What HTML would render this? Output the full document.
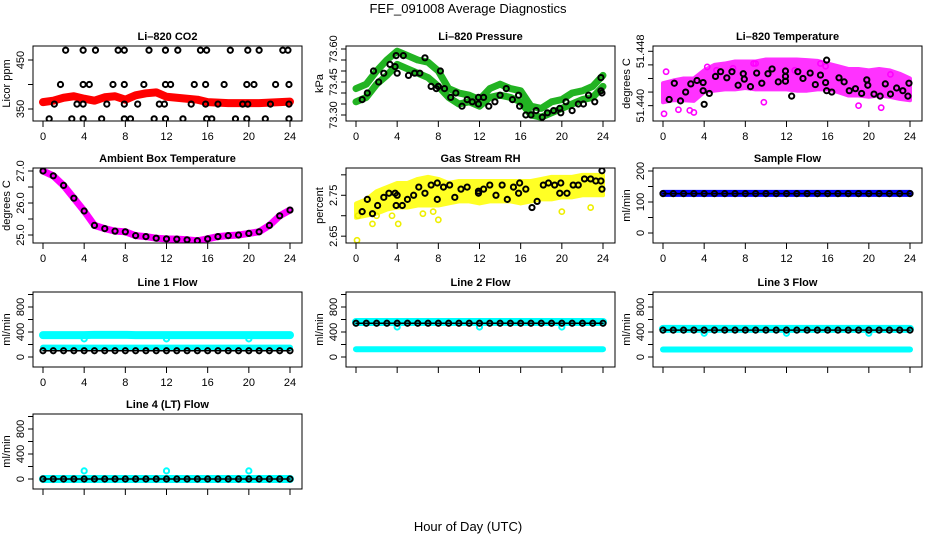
<!DOCTYPE html>
<html><head><meta charset="utf-8"><style>
html,body{margin:0;padding:0;background:#fff;}
svg{display:block;font-family:"Liberation Sans",Arial,sans-serif;}
</style></head><body>
<svg id="c" width="936" height="540" viewBox="0 0 936 540" xmlns="http://www.w3.org/2000/svg">
<rect width="936" height="540" fill="#fff"/>
<text x="468" y="13" text-anchor="middle" font-size="13">FEF_091008  Average Diagnostics</text>
<text x="468" y="531" text-anchor="middle" font-size="13">Hour of Day (UTC)</text>
</svg>
<script>
const hours=[0,1,2,3,4,5,6,7,8,9,10,11,12,13,14,15,16,17,18,19,20,21,22,23,24];
const xTicks=[0,4,8,12,16,20,24];
// CO2
const co2Red=[364,367,373,376,371,367,374,376,369,378,382,384,375,373,371,369,364,363,362,362,362,362,363,364,365];
const co2BlackHour=[2.2,3.9,5.1,7.3,7.9,10.3,11.9,13.1,15.3,15.9,18.2,19.9,21,23.3,23.8,1.7,3.9,4.5,6.8,7.9,9.8,11.9,12.4,14.7,15.8,17.6,19.8,20.5,22.6,23.9,1.1,3.3,3.9,6.2,7.9,9.2,11.3,11.8,14.4,15.8,17,19.4,19.9,22.1,23.9,0.6,2.8,3.9,5.7,7.9,8.5,10.8,11.9,13.6,15.9,16.4,18.7,19.8,21.6,23.9];
const co2BlackVal=[470,470,470,470,470,470,470,470,470,470,470,470,470,470,470,400,400,400,400,400,400,400,400,400,400,400,400,400,400,400,360,360,360,360,360,360,360,360,360,360,360,360,360,360,360,330,330,330,330,330,330,330,330,330,330,330,330,330,330,330];
// Pressure
const presUpper=[73.42,73.44,73.50,73.55,73.59,73.57,73.55,73.54,73.50,73.42,73.40,73.39,73.37,73.42,73.44,73.42,73.41,73.34,73.33,73.36,73.37,73.40,73.41,73.43,73.48];
const presLower=[73.36,73.38,73.44,73.48,73.53,73.51,73.49,73.47,73.43,73.38,73.35,73.36,73.34,73.38,73.39,73.38,73.36,73.30,73.29,73.31,73.33,73.35,73.37,73.38,73.43];
const presBlackHour=[0.6,1.1,1.7,2.2,2.7,3.3,3.8,3.9,4.0,4.6,5.1,5.7,6.2,6.7,7.3,7.8,8.0,8.2,8.6,9.2,9.7,10.3,10.8,11.3,11.9,11.9,12.4,12.9,13.5,14.0,14.6,15.2,15.8,15.9,16.5,17.0,17.5,18.1,18.6,19.2,19.8,19.9,20.4,21.0,21.6,22.1,22.6,23.2,23.8,23.9,23.8];
const presBlackVal=[73.37,73.40,73.50,73.45,73.49,73.53,73.52,73.57,73.49,73.57,73.48,73.49,73.49,73.56,73.43,73.42,73.43,73.50,73.42,73.38,73.40,73.34,73.37,73.36,73.38,73.35,73.38,73.34,73.36,73.39,73.42,73.37,73.39,73.34,73.30,73.30,73.32,73.29,73.31,73.32,73.33,73.31,73.36,73.32,73.35,73.35,73.39,73.36,73.47,73.40,73.41];
// Li-820 temperature
const ltUpper=[51.4433,51.4437,51.4440,51.4440,51.4452,51.4460,51.4462,51.4465,51.4465,51.4465,51.4468,51.4468,51.4468,51.4468,51.4467,51.4466,51.4462,51.4458,51.4454,51.4454,51.4452,51.4454,51.4452,51.4447,51.4440];
const ltLower=[51.4405,51.4408,51.4408,51.4407,51.4420,51.4422,51.4424,51.4424,51.4426,51.4424,51.4424,51.4424,51.4424,51.4422,51.4422,51.4424,51.4424,51.4420,51.4415,51.4415,51.4413,51.4415,51.4413,51.4410,51.4408];
const ltOutHour=[0.1,0.3,3.0,4.3,5.2,6.8,8.8,9.0,9.8,12.8,15.3,15.8,22.1,21.2,19.0,2.6,1.5];
const ltOutVal=[51.4388,51.4450,51.4390,51.4457,51.4452,51.4455,51.4462,51.4462,51.4405,51.4452,51.4462,51.4458,51.4446,51.4397,51.4400,51.4393,51.4394];
const ltBlackHour=[0.6,1.1,1.7,2.2,2.7,3.3,3.9,3.9,4.0,4.5,5.1,5.6,6.2,6.7,7.3,7.8,7.9,8.5,9.1,9.6,10.2,10.6,11.2,11.9,11.9,11.9,12.5,13.1,13.6,14.3,14.8,15.3,15.8,15.9,15.9,16.4,17.1,17.6,18.1,18.7,19.3,19.8,19.9,20.5,21.1,21.6,22.1,22.7,23.3,23.8,23.9];
const ltBlackVal=[51.4409,51.4433,51.4407,51.4420,51.4432,51.4437,51.4422,51.4434,51.4402,51.4418,51.4443,51.4450,51.4441,51.4450,51.4430,51.4447,51.4439,51.4428,51.4448,51.4433,51.4447,51.4454,51.4435,51.4451,51.4443,51.4436,51.4414,51.4450,51.4440,51.4448,51.4431,51.4445,51.4434,51.4422,51.4467,51.4420,51.4441,51.4435,51.4422,51.4425,51.4418,51.4438,51.4430,51.4417,51.4414,51.4432,51.4417,51.4426,51.4422,51.4414,51.4433];
// Ambient box temperature
const ambTemp=[27.0,26.85,26.55,26.15,25.75,25.3,25.2,25.12,25.1,24.98,24.95,24.9,24.88,24.87,24.85,24.82,24.88,24.95,24.98,25.0,25.05,25.1,25.3,25.6,25.78];
// Gas stream RH
const rhUpper=[2.73,2.74,2.76,2.77,2.78,2.78,2.79,2.795,2.79,2.78,2.785,2.785,2.785,2.785,2.785,2.785,2.785,2.785,2.79,2.795,2.795,2.795,2.80,2.80,2.80];
const rhLower=[2.695,2.70,2.705,2.715,2.72,2.72,2.725,2.725,2.725,2.73,2.735,2.735,2.73,2.735,2.735,2.735,2.73,2.735,2.74,2.74,2.745,2.745,2.75,2.75,2.75];
const rhOutHour=[0.1,1.6,3.5,4.1,6.5,7.5,8.0,20,22.8,0.2,2.0];
const rhOutVal=[2.64,2.68,2.70,2.68,2.705,2.71,2.69,2.71,2.72,2.70,2.70];
const rhBlackHour=[0.6,1.1,1.6,2.1,2.7,3.2,3.8,3.9,4.0,4.5,5.0,5.6,6.1,6.7,7.3,7.9,7.9,8.5,9.1,9.6,10.2,10.8,11.9,11.9,12.4,13.0,13.6,14.2,14.7,15.3,15.8,15.9,16.5,17.1,17.6,18.2,18.7,19.3,19.8,19.9,20.5,21.1,21.6,22.2,22.8,23.3,23.8,23.9,23.9];
const rhBlackVal=[2.71,2.74,2.705,2.725,2.745,2.755,2.755,2.725,2.75,2.725,2.74,2.75,2.77,2.755,2.775,2.74,2.78,2.77,2.775,2.745,2.765,2.77,2.755,2.76,2.765,2.775,2.75,2.775,2.74,2.77,2.755,2.78,2.765,2.72,2.735,2.775,2.78,2.775,2.755,2.78,2.755,2.775,2.775,2.79,2.79,2.785,2.785,2.765,2.81];
// Flows
const sampleBlue=[128,128,128,128,128,128,128,128,128,128,128,128,128,128,128,128,128,128,128,128,128,128,128,128,128];
const sampleBlack=[127,127,127,127,127,127,127,127,127,127,127,127,127,127,127,127,127,127,127,127,127,127,127,127,127];
const l1High=[350,350,350,350,350,355,355,355,355,350,350,350,350,350,350,350,350,350,350,350,350,350,350,350,350];
const l1Low=[150,150,150,150,150,150,150,150,150,150,150,150,150,150,150,150,150,150,150,150,150,150,150,150,150];
const l1Black=[100,100,100,100,100,100,100,100,100,100,100,100,100,100,100,100,100,100,100,100,100,100,100,100,100];
const l2High=[560,560,560,560,560,560,560,560,560,560,560,560,560,560,560,560,560,560,560,560,560,560,560,560,560];
const l2Low=[125,125,125,125,125,125,125,125,125,125,125,125,125,125,125,125,125,125,125,125,125,125,125,125,125];
const l2Black=[540,540,540,540,540,540,540,540,540,540,540,540,540,540,540,540,540,540,540,540,540,540,540,540,540];
const l3High=[450,450,450,450,450,450,450,450,450,450,450,450,450,450,450,450,450,450,450,450,450,450,450,450,450];
const l3Low=[120,120,120,120,120,120,120,120,120,120,120,120,120,120,120,120,120,120,120,120,120,120,120,120,120];
const l3Black=[430,430,430,430,430,430,430,430,430,430,430,430,430,430,430,430,430,430,430,430,430,430,430,430,430];
const l4Cyan=[0,0,0,0,0,0,0,0,0,0,0,0,0,0,0,0,0,0,0,0,0,0,0,0,0];
const l4Black=[0,0,0,0,0,0,0,0,0,0,0,0,0,0,0,0,0,0,0,0,0,0,0,0,0];
const dipHours=[4,12,20];
const l1Dip=[290,290,290];
const l2Dip=[480,480,480];
const l3Dip=[380,380,380];
const l4Dip=[130,130,130];

const svg=document.getElementById('c');
const NS='http://www.w3.org/2000/svg';
function mk(tag,attrs,parent){const e=document.createElementNS(NS,tag);for(const k in attrs)e.setAttribute(k,attrs[k]);(parent||svg).appendChild(e);return e;}

const colLeft=[33,346,653], rowTop=[46,168,292,414], BW=269, BH=75;

function panel(o){
  const L=colLeft[o.col], T=rowTop[o.row];
  const g=mk('g',{});
  
  
  const xs=h=>L+10+h*(247/24);
  const ys=v=>T+BH-(v-o.ymin)/(o.ymax-o.ymin)*BH;
  const clip='clip'+o.name;
  const cp=mk('clipPath',{id:clip},g);mk('rect',{x:L,y:T,width:BW,height:BH},cp);
  const plot=mk('g',{'clip-path':'url(#'+clip+')'},g);
  o.draw(plot,xs,ys);
  const box=mk('rect',{x:L,y:T,width:BW,height:BH,fill:'none',stroke:'#000','stroke-width':1},g);
  
  
  const t=mk('text',{x:L+BW/2,y:T-6,'text-anchor':'middle','font-size':11,'font-weight':'bold'},g);
  t.textContent=o.title;
  
  
  mk('line',{x1:xs(0),x2:xs(24),y1:T+BH,y2:T+BH,stroke:'#000'},g);
  xTicks.forEach(h=>{
    mk('line',{x1:xs(h),x2:xs(h),y1:T+BH,y2:T+BH+6,stroke:'#000'},g);
    if(o.xlabels){const tx=mk('text',{x:xs(h),y:T+BH+19,'text-anchor':'middle','font-size':11},g);tx.textContent=h;
      
      }
  });
  o.yticks.forEach(v=>{
    mk('line',{x1:L,x2:L-5,y1:ys(v),y2:ys(v),stroke:'#000'},g);
  });
  o.ylabels.forEach((s,i)=>{
    const v=o.ylabelVals[i];
    const tx=mk('text',{x:0,y:0,'text-anchor':'middle','font-size':11,transform:`translate(${L-9},${ys(v)}) rotate(-90)`},g);
    tx.textContent=s;
    
    
  });
  const yt=mk('text',{x:0,y:0,'text-anchor':'middle','font-size':11,transform:`translate(${L-23},${T+BH/2}) rotate(-90)`},g);
  yt.textContent=o.ylab;
  
  
}
function poly(p,xs,ys,hs,vs,color,w,name){
  const e=mk('polyline',{points:hs.map((h,i)=>xs(h)+','+ys(vs[i])).join(' '),fill:'none',stroke:color,'stroke-width':w,'stroke-linejoin':'round','stroke-linecap':'round'},p);
  
  
}
function band(p,xs,ys,hs,lo,hi,color,name,op){
  const pts=hs.map((h,i)=>xs(h)+','+ys(hi[i])).concat(hs.slice().reverse().map((h,j)=>xs(h)+','+ys(lo[hs.length-1-j])));
  const e=mk('polygon',{points:pts.join(' '),fill:color,stroke:color,'stroke-width':4,'stroke-linejoin':'round',opacity:op||1},p);
  
  
}
function rings(p,xs,ys,hs,vs,color,name,sw){
  hs.forEach((h,i)=>{
    const c=mk('circle',{cx:xs(h),cy:ys(vs[i]),r:2.6,fill:'none',stroke:color,'stroke-width':sw||1.6},p);
    
    
  });
}

panel({name:'co2-panel',col:0,row:0,title:'Li\u2013820 CO2',ylab:'Licor ppm',ymin:325.5,ymax:478.6,yticks:[350,400,450],ylabels:['350','450'],ylabelVals:[350,450],xlabels:true,
  draw:(p,xs,ys)=>{poly(p,xs,ys,hours,co2Red,'#f00',8,'co2-red-series');rings(p,xs,ys,hours,co2Red,'#f00','co2-red-point');rings(p,xs,ys,co2BlackHour,co2BlackVal,'#000','co2-black-point',2);}});
panel({name:'pressure-panel',col:1,row:0,title:'Li\u2013820 Pressure',ylab:'kPa',ymin:73.2727,ymax:73.6136,yticks:[73.30,73.35,73.40,73.45,73.50,73.55,73.60],ylabels:['73.30','73.45','73.60'],ylabelVals:[73.30,73.45,73.60],xlabels:true,
  draw:(p,xs,ys)=>{poly(p,xs,ys,hours,presUpper,'#22b322',7,'pressure-upper-series');poly(p,xs,ys,hours,presLower,'#22b322',7,'pressure-lower-series');rings(p,xs,ys,presBlackHour,presBlackVal,'#000','pressure-black-point',2);}});
panel({name:'li820-temp-panel',col:2,row:0,title:'Li\u2013820 Temperature',ylab:'degrees C',ymin:51.43774,ymax:51.44878,yticks:[51.440,51.442,51.444,51.446,51.448],ylabels:['51.440','51.448'],ylabelVals:[51.440,51.448],xlabels:true,
  draw:(p,xs,ys)=>{band(p,xs,ys,hours,ltLower,ltUpper,'#f0f','li820-temp-band',0.8);rings(p,xs,ys,ltOutHour,ltOutVal,'#f0f','li820-temp-outlier');rings(p,xs,ys,ltBlackHour,ltBlackVal,'#000','li820-temp-black-point',2);}});
panel({name:'ambient-temp-panel',col:0,row:1,title:'Ambient Box Temperature',ylab:'degrees C',ymin:24.75,ymax:27.094,yticks:[25.0,25.5,26.0,26.5,27.0],ylabels:['25.0','26.0','27.0'],ylabelVals:[25.0,26.0,27.0],xlabels:true,
  draw:(p,xs,ys)=>{poly(p,xs,ys,hours,ambTemp,'#f0f',7,'ambient-temp-series');rings(p,xs,ys,hours,ambTemp,'#000','ambient-temp-point',2);}});
panel({name:'rh-panel',col:1,row:1,title:'Gas Stream RH',ylab:'percent',ymin:2.6333,ymax:2.8167,yticks:[2.65,2.70,2.75,2.80],ylabels:['2.65','2.75'],ylabelVals:[2.65,2.75],xlabels:true,
  draw:(p,xs,ys)=>{band(p,xs,ys,hours,rhLower,rhUpper,'#ff0','rh-band',0.85);rings(p,xs,ys,rhOutHour,rhOutVal,'#ee0','rh-outlier');rings(p,xs,ys,rhBlackHour,rhBlackVal,'#000','rh-black-point',2);}});
panel({name:'sample-flow-panel',col:2,row:1,title:'Sample Flow',ylab:'ml/min',ymin:-32.3,ymax:209.7,yticks:[0,50,100,150,200],ylabels:['0','100','200'],ylabelVals:[0,100,200],xlabels:true,
  draw:(p,xs,ys)=>{poly(p,xs,ys,hours,sampleBlue,'#00f',7,'sample-flow-series');poly(p,xs,ys,hours,sampleBlack,'#000',1.5,'sample-flow-black-line');rings(p,xs,ys,hours,sampleBlack,'#000','sample-flow-point',2);}});
const flowCfg={ymin:-160,ymax:1040,yticks:[0,200,400,600,800,1000],ylabels:['0','400','800'],ylabelVals:[0,400,800],ylab:'ml/min'};
function flowPanel(name,col,row,title,hi,lo,bk,dip,xl){
  panel(Object.assign({name,col,row,title,xlabels:xl,draw:(p,xs,ys)=>{
    if(hi)poly(p,xs,ys,hours,hi,'#0ff',8,name+'-high-series');
    if(lo)poly(p,xs,ys,hours,lo,'#0ff',6,name+'-low-series');
    rings(p,xs,ys,dipHours,dip,'#0ff',name+'-dip-point',2);
    poly(p,xs,ys,hours,bk,'#000',1.5,name+'-black-line');
    rings(p,xs,ys,hours,bk,'#000',name+'-black-point',2);
  }},flowCfg));
}
flowPanel('line1-flow-panel',0,2,'Line 1 Flow',l1High,l1Low,l1Black,l1Dip,true);
flowPanel('line2-flow-panel',1,2,'Line 2 Flow',l2High,l2Low,l2Black,l2Dip,false);
flowPanel('line3-flow-panel',2,2,'Line 3 Flow',l3High,l3Low,l3Black,l3Dip,false);
flowPanel('line4-flow-panel',0,3,'Line 4 (LT) Flow',l4Cyan,null,l4Black,l4Dip,false);
</script>
</body></html>
